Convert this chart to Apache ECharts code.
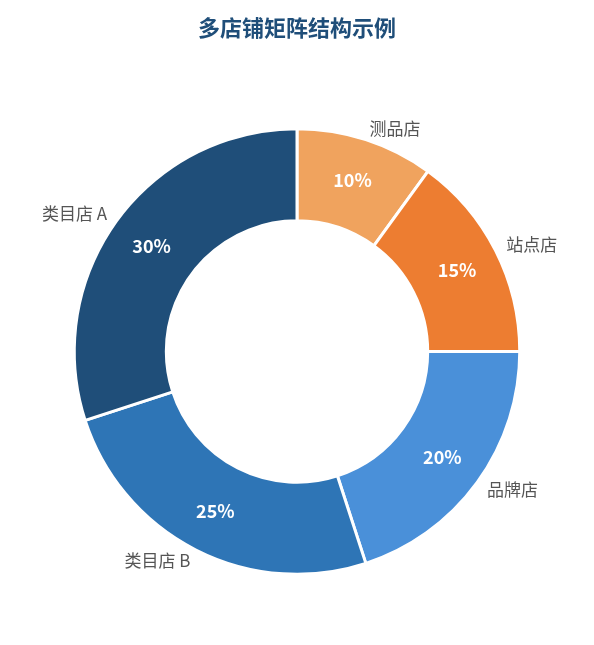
<!DOCTYPE html>
<html><head><meta charset="utf-8">
<script src="https://cdn.jsdelivr.net/npm/echarts@6/dist/echarts.min.js"></script>
<style>html,body{margin:0;padding:0;background:#fff}#c{width:594px;height:645px}</style>
</head><body><div id="c"></div>
<script>
const categories = ['测品店','站点店','品牌店','类目店 B','类目店 A'];
const values = [10,15,20,25,30];
const colors = ['#F0A35E','#ED7D31','#4A90D9','#2E75B6','#1F4E79'];
const data = categories.map((n,i)=>({name:n,value:values[i],itemStyle:{color:colors[i]}}));
const chart = echarts.init(document.getElementById('c'));
chart.setOption({
  title:{text:'多店铺矩阵结构示例',left:'center',top:12,textStyle:{fontFamily:'Noto Sans CJK SC',fontSize:22,fontWeight:'bold',color:'#1F4E79'}},
  series:[
    {type:'pie',radius:['44%','75%'],center:['50%','54.5%'],startAngle:90,clockwise:true,
     itemStyle:{borderColor:'#fff',borderWidth:3},
     label:{position:'inside',formatter:'{c}%',color:'#fff',fontSize:18,fontWeight:'bold',fontFamily:'Noto Sans CJK SC'},
     labelLine:{show:false},data:data},
    {type:'pie',radius:['44%','75%'],center:['50%','54.5%'],startAngle:90,silent:true,
     itemStyle:{color:'transparent'},
     label:{position:'outside',formatter:'{b}',color:'#555',fontSize:17,fontFamily:'Noto Sans CJK SC',distanceToLabelLine:0},
     labelLine:{show:false,length:12,length2:0},data:categories.map((n,i)=>({name:n,value:values[i]}))}
  ]
});
</script></body></html>
